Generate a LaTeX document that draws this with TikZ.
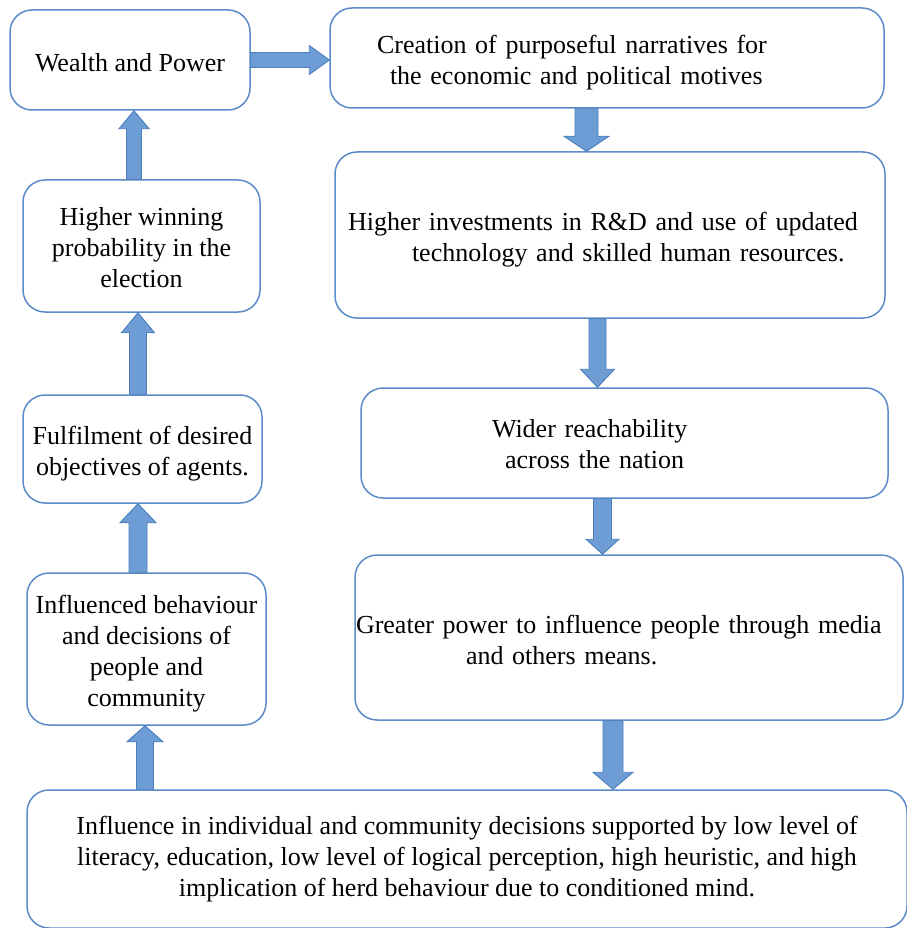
\documentclass[tikz,border=0pt]{standalone}
\usepackage{fontspec}
\setmainfont{Liberation Serif}
\usetikzlibrary{calc}
\definecolor{boxline}{HTML}{5B8BC9}
\definecolor{afill}{HTML}{6D9DD4}
\definecolor{adark}{HTML}{4A7EBB}
\newcommand\dn[1]{\rule{0pt}{#1}}
\tikzset{
  box/.style={draw=boxline, line width=1.5pt, rounded corners=22pt, fill=white,
    font=\fontsize{26}{31}\selectfont, inner ysep=0pt, text=black},
  cbox/.style={box, align=center, inner xsep=1pt},
  lbox/.style={box, align=left},
  barrow/.style n args={3}{draw=adark, fill=afill, line width=0.9pt, line join=miter,
    to path={let \p1=(\tikztostart), \p2=(\tikztotarget),
      \n1={atan2(\y2-\y1,\x2-\x1)}, \n2={veclen(\x2-\x1,\y2-\y1)} in
      {[shift={(\p1)}, rotate=\n1, x=1pt, y=1pt]
        (0,-#1) -- ({\n2-#3},-#1) -- ({\n2-#3},-#2) -- ({\n2},0) --
        ({\n2-#3},#2) -- ({\n2-#3},#1) -- (0,#1) -- cycle}}}
}
\begin{document}
\begin{tikzpicture}[x=1pt, y=-1pt]
\useasboundingbox (0,0) rectangle (906,928);
% left column
\node[cbox, minimum width=240pt, minimum height=100pt] (wealth) at (130,60)
  {\dn{23.8pt}Wealth and Power};
\node[cbox, minimum width=237pt, minimum height=132pt] (win) at (141.5,246)
  {\dn{21.8pt}Higher winning\\probability in the\\election};
\node[cbox, minimum width=239pt, minimum height=108pt] (fulf) at (142.5,449)
  {\dn{27.8pt}Fulfilment of desired\\objectives of agents.};
\node[cbox, minimum width=239pt, minimum height=152pt] (infl) at (146.5,649)
  {\dn{27.8pt}Influenced behaviour\\and decisions of\\people and\\community};
% right column
\node[lbox, minimum width=554pt, minimum height=100pt, inner xsep=47pt, text width=460pt] (crea) at (607,58)
  {\dn{27.8pt}Creation of purposeful narratives for\\\hspace*{13pt}the economic and political motives};
\node[lbox, minimum width=550pt, minimum height=166pt, inner xsep=13pt, text width=524pt] (inv) at (610,235)
  {\dn{26.8pt}Higher investments in R\&D and use of updated\\\hspace*{64pt}technology and skilled human resources.};
\node[lbox, minimum width=527pt, minimum height=110pt, inner xsep=131pt, text width=265pt] (wide) at (624.5,443)
  {\dn{20.8pt}Wider reachability\\\hspace*{13pt}across the nation};
\node[lbox, minimum width=548pt, minimum height=165pt, inner xsep=1pt, text width=546pt] (great) at (629,637.5)
  {\dn{22.8pt}Greater power to influence people through media\\\hspace*{110pt}and others means.};
% bottom
\node[cbox, minimum width=880pt, minimum height=138pt] (bottom) at (467,859)
  {Influence in individual and community decisions supported by low level of\\literacy, education, low level of logical perception, high heuristic, and high\\implication of herd behaviour due to conditioned mind.};
% arrows
\path[barrow={7.5}{14.5}{20}] (wealth.east) to (wealth.east -| crea.west);
\path[barrow={7.5}{15}{18}] (win.north -| 134,0) to (wealth.south -| 134,0);
\path[barrow={8.5}{16.5}{20}] (fulf.north -| 138,0) to (win.south -| 138,0);
\path[barrow={9}{18}{19}] (infl.north -| 138,0) to (fulf.south -| 138,0);
\path[barrow={8.5}{18}{16}] (bottom.north -| 145,0) to (infl.south -| 145,0);
\path[barrow={11.5}{22.5}{15}] (crea.south -| 586.5,0) to (inv.north -| 586.5,0);
\path[barrow={8.5}{17}{18}] (inv.south -| 597.5,0) to (wide.north -| 597.5,0);
\path[barrow={9}{16.5}{15}] (wide.south -| 602.5,0) to (great.north -| 602.5,0);
\path[barrow={10}{20}{17}] (great.south -| 613,0) to (bottom.north -| 613,0);
\end{tikzpicture}
\end{document}
